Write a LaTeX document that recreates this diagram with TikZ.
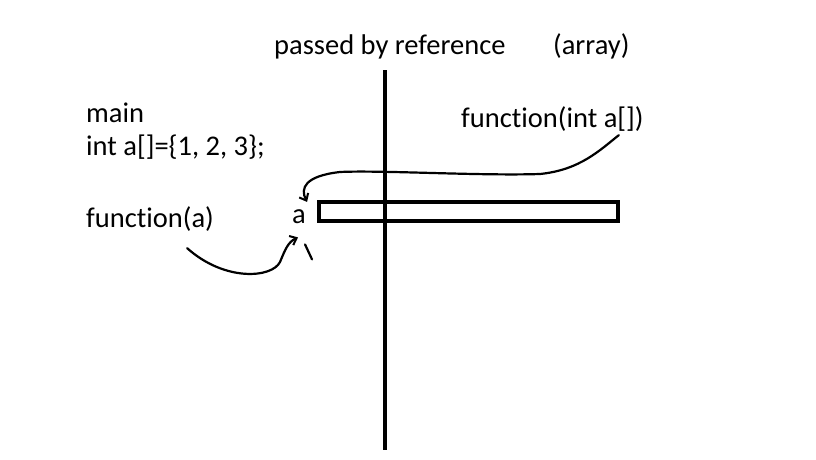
\documentclass[tikz,border=0pt]{standalone}
\usepackage{fontspec}
\setmainfont{Carlito}[Ligatures=NoCommon]
\usetikzlibrary{arrows.meta, positioning, calc}

\begin{document}
\begin{tikzpicture}[
    x=1pt, y=-1pt,
    font=\fontsize{28.5}{34}\selectfont,
    label/.style={anchor=base west, inner sep=0pt},
    arraybox/.style={draw, line width=4pt, minimum width=299pt, minimum height=19pt, inner sep=0pt},
    divider/.style={line width=4pt},
    sketch/.style={line width=2.2pt, line cap=round, line join=round, -{Straight Barb[length=6pt, width=10pt, line width=2pt]}}
]
    \useasboundingbox (0,0) rectangle (816,460);

    % Headings
    \node[label] (title) at (274,55) {passed by reference};
    \node[label] (kind) at (553,55) {(array)};

    % Caller side
    \node[label] (main) at (86,122) {main};
    \node[label] (decl) at (86,155) {int a[]=\{1, 2, 3\};};
    \node[label] (call) at (86,227) {function(a)};
    \node[label] (aname) at (292,223) {a};

    % Callee side
    \node[label] (callee) at (461,127) {function(int a[])};

    % Divider and array
    \coordinate (top) at (385,70);
    \coordinate (bottom) at (385,450);
    \draw[divider] (top) -- (bottom);
    \node[arraybox] (arr) at (468.5,211) {};

    % Arrows
    \draw[sketch] (callee.south east) ++(-25,4) .. controls (600,150) and (580,170) .. (540,174)
        .. controls (480,176) and (380,170) .. (340,172)
        .. controls (305,176) and (300,188) .. ($(aname.north east)+(1,-7)$);
    \draw[sketch] (call.south east) ++(-27,17) .. controls (225,282) and (272,278) .. (280,262)
        .. controls (285,250) and (288,242) .. ($(aname.south)+(-1,14)$);
    \draw[line width=2.2pt, line cap=round] (aname.south) ++(6,21) -- ++(7,15);
\end{tikzpicture}
\end{document}
